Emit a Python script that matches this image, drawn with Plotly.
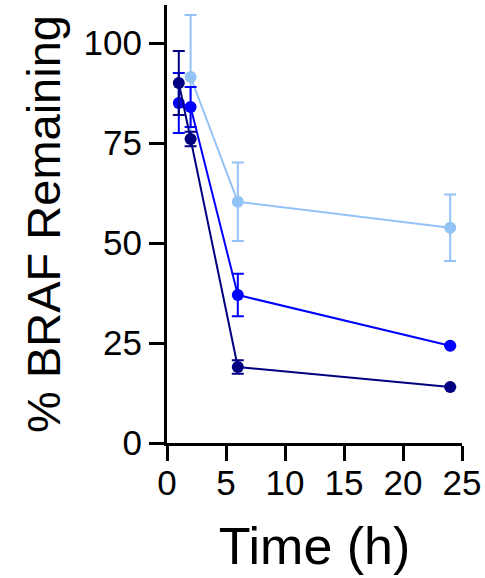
import plotly.graph_objects as go

# Data
time_light = [2, 6, 24]
light_vals = [91.5, 60.3, 53.8]
light_err = [15.5, 9.8, 8.3]

time_blue = [1, 2, 6, 24]
blue_vals = [85.0, 84.0, 37.0, 24.3]
blue_err = [7.5, 5.0, 5.3, 0.0]

time_navy = [1, 2, 6, 24]
navy_vals = [90.0, 76.0, 19.0, 14.0]
navy_err = [8.0, 1.8, 1.7, 0.0]

x_ticks = [0, 5, 10, 15, 20, 25]
y_ticks = [0, 25, 50, 75, 100]

series = [
    ("Light", time_light, light_vals, light_err, "#93c2f7"),
    ("Blue", time_blue, blue_vals, blue_err, "#0000ff"),
    ("Navy", time_navy, navy_vals, navy_err, "#000080"),
]

fig = go.Figure()
for name, t, v, e, c in series:
    fig.add_trace(go.Scatter(
        x=t, y=v, name=name, mode="lines+markers",
        line=dict(color=c, width=2),
        marker=dict(color=c, size=12),
        error_y=dict(type="data", array=e, visible=True, color=c, thickness=2, width=6),
        cliponaxis=False,
    ))

font_family = "Liberation Sans, Arial, sans-serif"
fig.update_layout(
    width=485, height=578,
    margin=dict(l=167, r=23, t=5, b=135, autoexpand=False),
    paper_bgcolor="white", plot_bgcolor="white",
    showlegend=False,
    font=dict(family=font_family, color="black"),
    xaxis=dict(
        range=[0, 25], tickvals=x_ticks, ticktext=[str(v) for v in x_ticks],
        automargin=False,
        showgrid=False, zeroline=False, showline=True, linecolor="black", linewidth=3,
        ticks="outside", ticklen=15, tickwidth=3, tickcolor="black",
        ticklabelstandoff=-8,
        tickfont=dict(size=35, family=font_family, color="black"),
        title=dict(text="Time (h)", font=dict(size=52, family=font_family, color="black"), standoff=27),
    ),
    yaxis=dict(
        range=[0, 109.5], tickvals=y_ticks, ticktext=[str(v) for v in y_ticks],
        automargin=False,
        showgrid=False, zeroline=False, showline=True, linecolor="black", linewidth=3,
        ticks="outside", ticklen=15, tickwidth=3, tickcolor="black",
        tickfont=dict(size=35, family=font_family, color="black"),
        title=dict(text="% BRAF Remaining", font=dict(size=47, family=font_family, color="black"), standoff=9),
    ),
)

fig.write_html("out.html", config={"displayModeBar": False},
               post_script="document.body.style.margin='0';")
